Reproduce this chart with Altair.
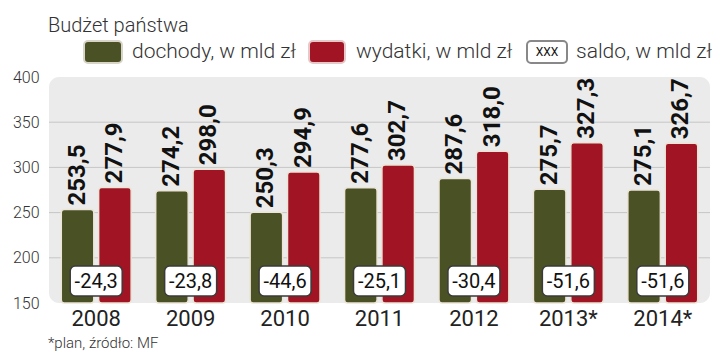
import altair as alt
import pandas as pd

# ---- data ----
years = ["2008", "2009", "2010", "2011", "2012", "2013*", "2014*"]
dochody = [253.5, 274.2, 250.3, 277.6, 287.6, 275.7, 275.1]
wydatki = [277.9, 298.0, 294.9, 302.7, 318.0, 327.3, 326.7]
saldo = [-24.3, -23.8, -44.6, -25.1, -30.4, -51.6, -51.6]
series = ["dochody, w mld zł", "wydatki, w mld zł"]
saldo_label = "saldo, w mld zł"
title_text = "Budżet państwa"
footnote = "*plan, źródło: MF"
grid_values = [200, 250, 300, 350]
y_ticks = [150, 200, 250, 300, 350, 400]

GREEN = "#4a5124"
RED = "#a01424"
W, H = 661, 226
REG = "Roboto, Open Sans, sans-serif"


def pl(v):
    return f"{v:.1f}".replace(".", ",")


rows = []
for i, y in enumerate(years):
    rows.append({"year": y, "series": series[0], "value": dochody[i], "label": pl(dochody[i])})
    rows.append({"year": y, "series": series[1], "value": wydatki[i], "label": pl(wydatki[i])})
df = pd.DataFrame(rows)
sdf = pd.DataFrame({"year": years, "saldo": [pl(s) for s in saldo]})
gdf = pd.DataFrame({"g": grid_values})
one = pd.DataFrame({"a": [0]})

xenc = alt.X("year:N", sort=years,
             scale=alt.Scale(paddingInner=0.26, paddingOuter=0.13),
             axis=alt.Axis(title=None, labelAngle=0, ticks=False, domain=False,
                           labelFontSize=22, labelColor="#222", labelFont=REG,
                           labelPadding=5))
yscale = alt.Scale(domain=[150, 400], zero=False, nice=False)
xoff = alt.XOffset("series:N", sort=series, scale=alt.Scale(paddingInner=0.13, paddingOuter=0))

grid = alt.Chart(gdf).mark_rule(color="#c6c6c6", strokeWidth=1).encode(
    y=alt.Y("g:Q", scale=yscale,
            axis=alt.Axis(title=None, values=y_ticks, ticks=False, domain=False, grid=False,
                          labelFontSize=16, labelColor="#333", labelFont=REG,
                          labelFontWeight=300, labelPadding=10)),
    x=alt.value(0), x2=alt.value(W),
)

bars = alt.Chart(df).mark_bar(cornerRadius=3, stroke="#ece4d6", strokeWidth=1.5).encode(
    x=xenc,
    xOffset=xoff,
    y=alt.Y("value:Q", scale=yscale),
    y2=alt.datum(150),
    color=alt.Color("series:N", scale=alt.Scale(domain=series, range=[GREEN, RED]), legend=None),
)

labels = alt.Chart(df).mark_text(angle=270, align="left", baseline="middle", dx=4,
                                 font=REG, fontWeight="bold", fontSize=24, color="#111").encode(
    x=xenc,
    xOffset=xoff,
    y=alt.Y("value:Q", scale=yscale),
    text="label:N",
)

sbox = alt.Chart(sdf).mark_bar(width=52, cornerRadius=5, fill="white", stroke="#3a3a3a",
                               strokeWidth=1.5).encode(
    x=xenc, y=alt.value(189), y2=alt.value(219),
)
stext = alt.Chart(sdf).mark_text(font=REG, fontSize=20, color="#111", baseline="middle").encode(
    x=xenc, y=alt.value(205), text="saldo:N",
)

# ---- decoration: top line, title, legend, footnote ----
topline = alt.Chart(one).mark_rule(color="#8a8a8a", strokeWidth=1).encode(
    x=alt.value(-41), x2=alt.value(662), y=alt.value(-70))
title = alt.Chart(one).mark_text(align="left", baseline="alphabetic", font=REG, fontSize=20,
                                 fontWeight=300, color="#333").encode(
    x=alt.value(-1), y=alt.value(-45), text=alt.value(title_text))
sw1 = alt.Chart(one).mark_rect(cornerRadius=4, fill=GREEN, stroke="#d8d4c8", strokeWidth=2).encode(
    x=alt.value(35), x2=alt.value(73), y=alt.value(-36), y2=alt.value(-14))
sw2 = alt.Chart(one).mark_rect(cornerRadius=4, fill=RED, stroke="#e6c8c8", strokeWidth=2).encode(
    x=alt.value(260), x2=alt.value(296), y=alt.value(-36), y2=alt.value(-14))
sw3 = alt.Chart(one).mark_rect(cornerRadius=4, fill="white", stroke="#888", strokeWidth=2).encode(
    x=alt.value(478), x2=alt.value(518), y=alt.value(-36), y2=alt.value(-14))
xxx = alt.Chart(one).mark_text(font=REG, fontSize=12, color="#111", baseline="middle").encode(
    x=alt.value(498), y=alt.value(-25), text=alt.value("XXX"))
lt1 = alt.Chart(one).mark_text(align="left", baseline="middle", font=REG, fontSize=21,
                               fontWeight=300, color="#333").encode(
    x=alt.value(83), y=alt.value(-25), text=alt.value(series[0]))
lt2 = alt.Chart(one).mark_text(align="left", baseline="middle", font=REG, fontSize=21,
                               fontWeight=300, color="#333").encode(
    x=alt.value(307), y=alt.value(-25), text=alt.value(series[1]))
lt3 = alt.Chart(one).mark_text(align="left", baseline="middle", font=REG, fontSize=21,
                               fontWeight=300, color="#333").encode(
    x=alt.value(527), y=alt.value(-25), text=alt.value(saldo_label))
foot = alt.Chart(one).mark_text(align="left", baseline="middle", font=REG, fontSize=15,
                                fontWeight=300, color="#333").encode(
    x=alt.value(-1), y=alt.value(266), text=alt.value(footnote))

chart = alt.layer(
    grid, bars, labels, sbox, stext,
    topline, title, sw1, sw2, sw3, xxx, lt1, lt2, lt3, foot,
).resolve_scale(x="shared").properties(
    width=W, height=H,
    autosize=alt.AutoSizeParams(type="none"),
    padding={"left": 41, "top": 69, "right": 2, "bottom": 49},
    background="white",
).configure_view(fill="#ebebeb", stroke=None, cornerRadius=10)

chart.save("out.html", embed_options={"renderer": "svg", "actions": False})
